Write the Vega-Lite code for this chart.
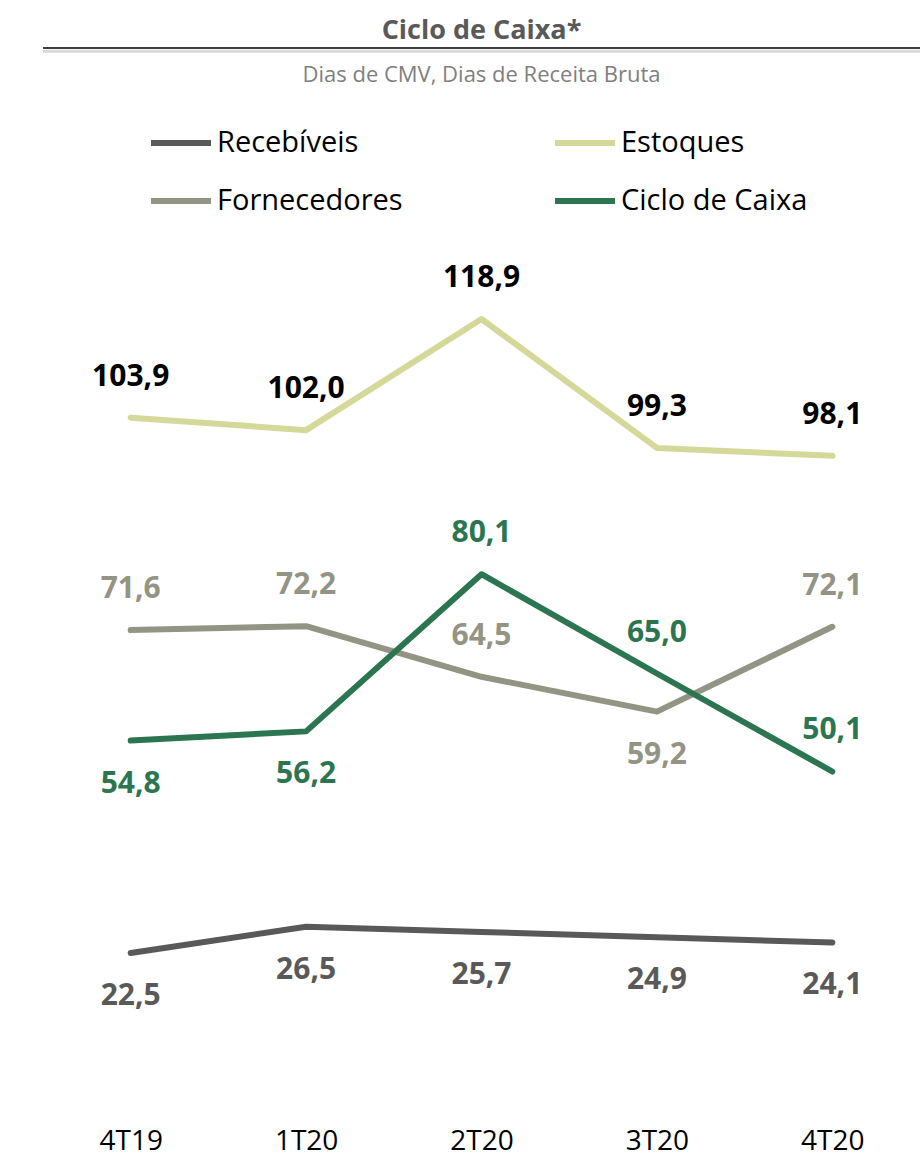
{
  "$schema": "https://vega.github.io/schema/vega-lite/v6.json",
  "width": 877,
  "height": 855,
  "autosize": {"type": "none"},
  "padding": {"left": 43, "top": 246, "right": 0, "bottom": 59},
  "background": "white",
  "config": {
    "view": {"stroke": null},
    "font": "Open Sans, sans-serif"
  },
  "title": {
    "text": "Ciclo de Caixa*",
    "subtitle": "Dias de CMV, Dias de Receita Bruta",
    "anchor": "middle",
    "frame": "group",
    "fontSize": 27,
    "fontWeight": "bold",
    "color": "#595959",
    "subtitleFontSize": 22,
    "subtitleColor": "#7f7f7f",
    "subtitlePadding": 20,
    "offset": -40
  },
  "data": {
    "values": [
      {"serie": "Recebíveis", "t": "4T19", "v": 22.5, "lbl": "22,5"},
      {"serie": "Recebíveis", "t": "1T20", "v": 26.5, "lbl": "26,5"},
      {"serie": "Recebíveis", "t": "2T20", "v": 25.7, "lbl": "25,7"},
      {"serie": "Recebíveis", "t": "3T20", "v": 24.9, "lbl": "24,9"},
      {"serie": "Recebíveis", "t": "4T20", "v": 24.1, "lbl": "24,1"},
      {"serie": "Estoques", "t": "4T19", "v": 103.9, "lbl": "103,9"},
      {"serie": "Estoques", "t": "1T20", "v": 102.0, "lbl": "102,0"},
      {"serie": "Estoques", "t": "2T20", "v": 118.9, "lbl": "118,9"},
      {"serie": "Estoques", "t": "3T20", "v": 99.3, "lbl": "99,3"},
      {"serie": "Estoques", "t": "4T20", "v": 98.1, "lbl": "98,1"},
      {"serie": "Fornecedores", "t": "4T19", "v": 71.6, "lbl": "71,6"},
      {"serie": "Fornecedores", "t": "1T20", "v": 72.2, "lbl": "72,2"},
      {"serie": "Fornecedores", "t": "2T20", "v": 64.5, "lbl": "64,5"},
      {"serie": "Fornecedores", "t": "3T20", "v": 59.2, "lbl": "59,2"},
      {"serie": "Fornecedores", "t": "4T20", "v": 72.1, "lbl": "72,1"},
      {"serie": "Ciclo de Caixa", "t": "4T19", "v": 54.8, "lbl": "54,8"},
      {"serie": "Ciclo de Caixa", "t": "1T20", "v": 56.2, "lbl": "56,2"},
      {"serie": "Ciclo de Caixa", "t": "2T20", "v": 80.1, "lbl": "80,1"},
      {"serie": "Ciclo de Caixa", "t": "3T20", "v": 65.0, "lbl": "65,0"},
      {"serie": "Ciclo de Caixa", "t": "4T20", "v": 50.1, "lbl": "50,1"}
    ]
  },
  "resolve": {"scale": {"color": "independent"}},
  "layer": [
    {
      "mark": {"type": "line", "strokeWidth": 6, "strokeCap": "round", "strokeJoin": "round"},
      "encoding": {
        "x": {"field": "t", "type": "ordinal", "sort": null, "scale": {"type": "point", "padding": 0.5},
          "axis": {"title": null, "domain": false, "ticks": false, "grid": false, "labelAngle": 0, "labelFontSize": 28, "labelColor": "#000000", "labelPadding": 26}},
        "y": {"field": "v", "type": "quantitative", "scale": {"domain": [0, 130]}, "axis": null},
        "color": {
          "field": "serie", "type": "nominal",
          "scale": {"domain": ["Recebíveis", "Estoques", "Fornecedores", "Ciclo de Caixa"], "range": ["#595959", "#d4d99a", "#949485", "#2b7651"]},
          "legend": {"title": null, "orient": "none", "legendX": 105, "legendY": -136, "direction": "horizontal", "columns": 2, "symbolType": "stroke", "symbolStrokeWidth": 6, "symbolSize": 3600, "labelFontSize": 29, "labelColor": "#000000", "labelLimit": 400, "columnPadding": 140, "rowPadding": 10, "labelOffset": 3}
        }
      }
    },
    {
      "transform": [{"filter": "!(datum.serie == 'Recebíveis' || (datum.serie == 'Fornecedores' && datum.t == '3T20') || (datum.serie == 'Ciclo de Caixa' && (datum.t == '4T19' || datum.t == '1T20')))"}],
      "mark": {"type": "text", "dy": -41, "fontSize": 30, "fontWeight": "bold", "baseline": "middle"},
      "encoding": {
        "x": {"field": "t", "type": "ordinal", "sort": null},
        "y": {"field": "v", "type": "quantitative"},
        "text": {"field": "lbl", "type": "nominal"},
        "color": {"field": "serie", "type": "nominal", "legend": null,
          "scale": {"domain": ["Recebíveis", "Estoques", "Fornecedores", "Ciclo de Caixa"], "range": ["#595959", "#000000", "#949485", "#2b7651"]}}
      }
    },
    {
      "transform": [{"filter": "datum.serie == 'Recebíveis' || (datum.serie == 'Fornecedores' && datum.t == '3T20') || (datum.serie == 'Ciclo de Caixa' && (datum.t == '4T19' || datum.t == '1T20'))"}],
      "mark": {"type": "text", "dy": 43, "fontSize": 30, "fontWeight": "bold", "baseline": "middle"},
      "encoding": {
        "x": {"field": "t", "type": "ordinal", "sort": null},
        "y": {"field": "v", "type": "quantitative"},
        "text": {"field": "lbl", "type": "nominal"},
        "color": {"field": "serie", "type": "nominal", "legend": null,
          "scale": {"domain": ["Recebíveis", "Estoques", "Fornecedores", "Ciclo de Caixa"], "range": ["#595959", "#000000", "#949485", "#2b7651"]}}
      }
    },
    {
      "data": {"values": [{"k": "a"}]},
      "mark": {"type": "rule", "stroke": "#d9d9d9", "strokeWidth": 3},
      "encoding": {"y": {"datum": 159.6, "type": "quantitative"}}
    },
    {
      "data": {"values": [{"k": "b"}]},
      "mark": {"type": "rule", "stroke": "#3f3f3f", "strokeWidth": 2},
      "encoding": {"y": {"datum": 160.1, "type": "quantitative"}}
    }
  ]
}
